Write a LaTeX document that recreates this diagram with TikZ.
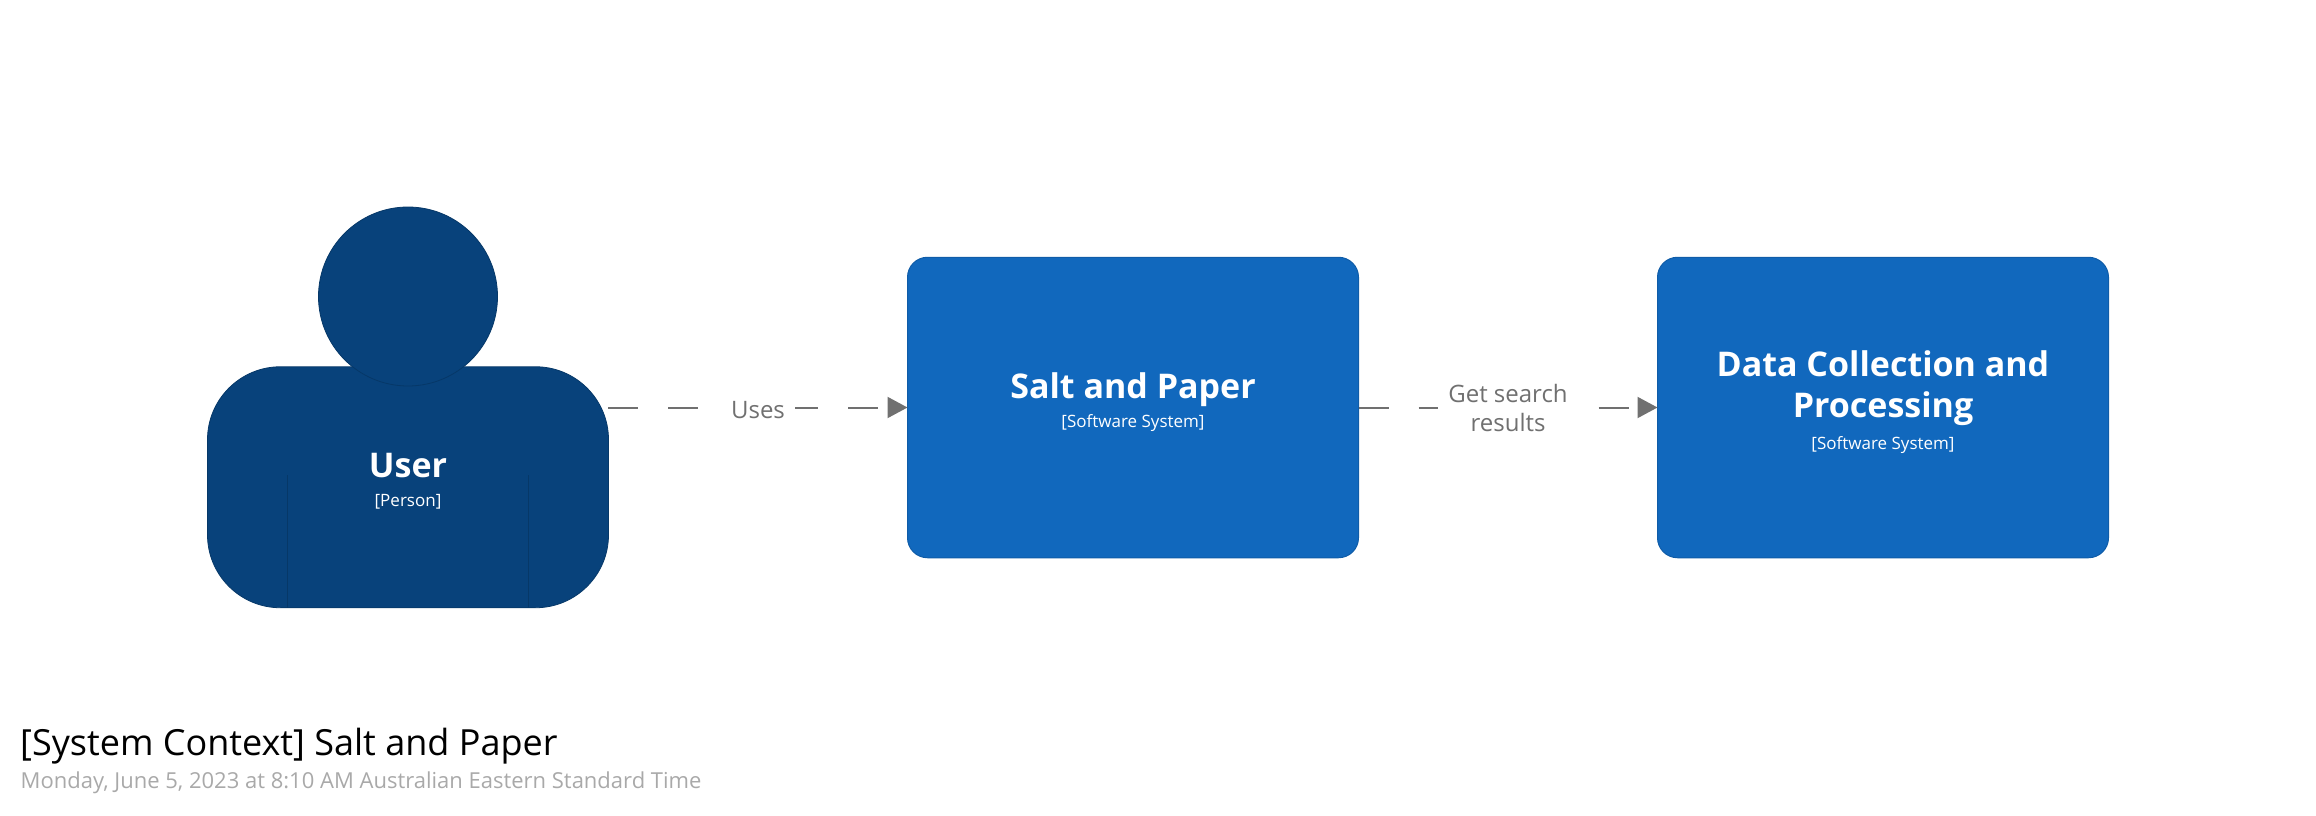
\documentclass[tikz,border=0pt]{standalone}
\usepackage{fontspec}
\setmainfont{Open Sans}
\usetikzlibrary{arrows.meta}
\definecolor{personfill}{HTML}{08427B}
\definecolor{personline}{HTML}{063868}
\definecolor{sysfill}{HTML}{1168BD}
\definecolor{sysline}{HTML}{0F5CA8}
\definecolor{edgegray}{HTML}{707070}
\definecolor{dategray}{HTML}{A9A9A9}
\newcommand{\fs}[2]{\fontsize{#1}{#2}\selectfont}
\tikzset{
  x=1pt,y=-1pt,
  sysbox/.style={draw=sysline,fill=sysfill,line width=1pt,rounded corners=20pt,minimum width=451pt,minimum height=300.5pt,inner sep=0pt,outer sep=0pt},
  persbody/.style={draw=personline,fill=personfill,line width=0.8pt,rounded corners=73pt,minimum width=401pt,minimum height=241pt,inner sep=0pt,outer sep=0pt},
  pershead/.style={draw=personline,fill=personfill,line width=0.8pt,circle,minimum size=179pt,inner sep=0pt,outer sep=0pt},
  armline/.style={draw=personline,line width=0.8pt},
  nametext/.style={anchor=base,text=white,inner sep=0pt,font=\bfseries\fs{34}{41}},
  subtext/.style={anchor=base,text=white,inner sep=0pt,font=\fs{17}{22}},
  relation/.style={draw=edgegray,line width=2pt,dash pattern=on 30pt off 30pt,-{Triangle[length=20pt,width=21pt,fill=edgegray]}},
  edgetext/.style={fill=white,text=edgegray,inner sep=0pt,align=center,font=\fs{24}{29}},
}
\begin{document}
\begin{tikzpicture}
\useasboundingbox (0,0) rectangle (2316,816);
% person
\node[persbody] (body) at (408,487.25) {};
\node[pershead] (head) at (408,296.5) {};
\coordinate (armLtop) at (287.6,475);
\coordinate (armLbot) at (287.6,607.5);
\coordinate (armRtop) at (528,475);
\coordinate (armRbot) at (528,607.5);
\draw[armline] (armLtop) -- (armLbot);
\draw[armline] (armRtop) -- (armRbot);
\node[nametext] (username) at (408,477) {User};
\node[subtext] (usersub) at (408,506.5) {[Person]};
\coordinate (userport) at (608,407.5);
% systems
\node[sysbox] (salt) at (1133,407.5) {};
\node[sysbox] (data) at (1883,407.5) {};
\node[nametext] (saltname) at (1133,398.5) {Salt and Paper};
\node[subtext] (saltsub) at (1133,427.5) {[Software System]};
\node[nametext] (dataname1) at (1883,376.5) {Data Collection and};
\node[nametext] (dataname2) at (1883,417) {Processing};
\node[subtext] (datasub) at (1883,449) {[Software System]};
% connectors
\draw[relation] (userport) -- (salt.west);
\draw[relation] (salt.east) -- (data.west);
\node[edgetext,minimum width=74pt,minimum height=26pt] (uses) at (758,410) {Uses};
\node[edgetext,minimum width=140pt] (gets) at (1508,408) {Get search\\results};
% title
\node[anchor=base west,inner sep=0pt,text=black,font=\fs{36}{41}] (title) at (20,755) {[System Context] Salt and Paper};
\node[anchor=base west,inner sep=0pt,text=dategray,font=\fs{22}{27}] (date) at (20.5,788) {Monday, June 5, 2023 at 8:10 AM Australian Eastern Standard Time};
\end{tikzpicture}
\end{document}
